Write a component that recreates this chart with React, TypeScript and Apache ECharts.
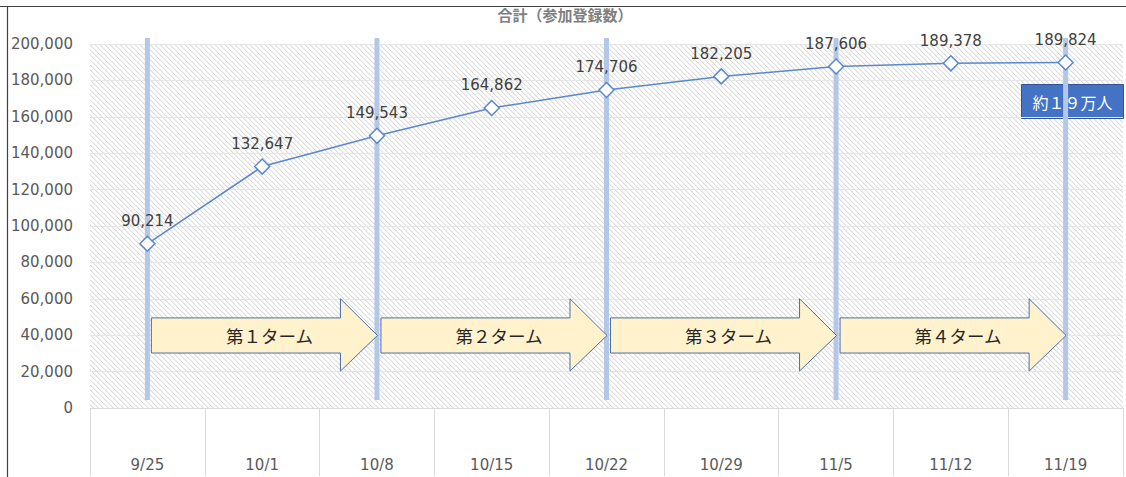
import React, { useEffect, useRef } from "react";
import * as echarts from "echarts";

const categories = ["9/25", "10/1", "10/8", "10/15", "10/22", "10/29", "11/5", "11/12", "11/19"];
const registrations = [90214, 132647, 149543, 164862, 174706, 182205, 187606, 189378, 189824];
const termBoundaryIndex = [0, 2, 4, 6, 8];
const termLabels = ["第１ターム", "第２ターム", "第３ターム", "第４ターム"];
const termFrom = [0, 2, 4, 6];
const termTo = [2, 4, 6, 8];
const yMin = 0;
const yMax = 200000;
const yInterval = 20000;
const titleText = "合計（参加登録数）";
const noteText = "約１９万人";

const NUM_FONT = "DejaVu Sans";
const JP_FONT = '"Noto Sans CJK JP"';

function makeHatch(): string {
  const c = document.createElement("canvas");
  const n = 5;
  c.width = n;
  c.height = n;
  const ctx = c.getContext("2d")!;
  ctx.fillStyle = "#ffffff";
  ctx.fillRect(0, 0, n, n);
  for (let i = 0; i < n; i++) {
    ctx.fillStyle = "#dcdcdc";
    ctx.fillRect(i, i, 1, 1);
    ctx.fillStyle = "#f0f0f0";
    ctx.fillRect((i + 1) % n, i, 1, 1);
  }
  return c.toDataURL();
}

export default function App() {
  const ref = useRef<HTMLDivElement>(null);
  useEffect(() => {
    if (!ref.current) return;
    const chart = echarts.init(ref.current, undefined, { renderer: "svg" });
    const hatch = makeHatch();
    const option: any = {
      animation: false,
      backgroundColor: "#ffffff",
      grid: {
        left: 90,
        right: 3,
        top: 44,
        bottom: 69,
        show: true,
        borderWidth: 0,
        backgroundColor: { image: hatch, repeat: "repeat", imageWidth: 5, imageHeight: 5 },
      },
      xAxis: {
        type: "category",
        data: categories,
        boundaryGap: true,
        axisLine: { show: true, lineStyle: { color: "#d9d9d9", width: 1 } },
        axisTick: { show: true, interval: 0, length: 68, lineStyle: { color: "#d9d9d9", width: 1 } },
        axisLabel: { interval: 0, margin: 49, color: "#595959", fontSize: 15, fontFamily: NUM_FONT },
      },
      yAxis: {
        type: "value",
        min: yMin,
        max: yMax,
        interval: yInterval,
        axisLine: { show: false },
        axisTick: { show: false },
        splitLine: { show: true, lineStyle: { color: "#e6e6e6", width: 1 } },
        axisLabel: {
          margin: 17,
          color: "#595959",
          fontSize: 15,
          fontFamily: NUM_FONT,
          formatter: (v: number) => v.toLocaleString("en-US"),
        },
      },
      series: [
        {
          type: "custom",
          z: 1,
          silent: true,
          clip: false,
          encode: { x: 0, y: 1 },
          data: termBoundaryIndex.map((i) => [i, 0]),
          renderItem: (params: any, api: any) => {
            const x = api.coord([api.value(0), 0])[0];
            const top = api.coord([0, yMax])[1] - 6;
            const bottom = api.coord([0, 0])[1] - 8;
            return {
              type: "rect",
              shape: { x: x - 2.5, y: top, width: 5, height: bottom - top },
              style: { fill: "#b4c7e7" },
            };
          },
        },
        {
          type: "custom",
          z: 2,
          silent: true,
          clip: false,
          encode: { x: 0, y: 2 },
          data: termFrom.map((f, i) => [f, termTo[i], 0]),
          renderItem: (params: any, api: any) => {
            const idx = params.dataIndex;
            const xs = api.coord([api.value(0), 0])[0] + 4;
            const xt = api.coord([api.value(1), 0])[0] + 0.5;
            const xb = xt - 37;
            const yBT = api.coord([0, 49500])[1];
            const yBB = api.coord([0, 30200])[1];
            const yHT = api.coord([0, 60000])[1];
            const yHB = api.coord([0, 20300])[1];
            const ym = (yBT + yBB) / 2;
            return {
              type: "group",
              children: [
                {
                  type: "polygon",
                  shape: {
                    points: [
                      [xs, yBT],
                      [xb, yBT],
                      [xb, yHT],
                      [xt, ym],
                      [xb, yHB],
                      [xb, yBB],
                      [xs, yBB],
                    ],
                  },
                  style: { fill: "#fff2cc", stroke: "#4a6eaa", lineWidth: 1 },
                },
                {
                  type: "text",
                  x: (xs + xt) / 2 + 5,
                  y: ym,
                  style: {
                    text: termLabels[idx],
                    fill: "#262626",
                    font: `17.5px ${JP_FONT}`,
                    align: "center",
                    verticalAlign: "middle",
                  },
                },
              ],
            };
          },
        },
        {
          type: "line",
          z: 3,
          data: registrations,
          symbol: "diamond",
          symbolSize: 15,
          showAllSymbol: true,
          lineStyle: { color: "#5a87cf", width: 1.5 },
          itemStyle: { color: "#ffffff", borderColor: "#5a87cf", borderWidth: 1.5 },
          label: {
            show: true,
            position: "top",
            distance: 7,
            color: "#404040",
            fontSize: 15,
            fontFamily: NUM_FONT,
            formatter: (p: any) => Number(p.value).toLocaleString("en-US"),
          },
        },
      ],
      graphic: [
        {
          type: "text",
          z: 10,
          x: 565,
          y: 14,
          style: {
            text: titleText,
            fill: "#808080",
            font: `bold 15px ${JP_FONT}`,
            align: "center",
            verticalAlign: "middle",
          },
        },
        {
          type: "rect",
          z: 11,
          shape: { x: 0, y: 0, width: 1126, height: 8 },
          style: { fill: "#ffffff" },
        },
        {
          type: "line",
          z: 12,
          shape: { x1: 0, y1: 6.5, x2: 1126, y2: 6.5 },
          style: { stroke: "#404040", lineWidth: 1.2 },
        },
        {
          type: "line",
          z: 12,
          shape: { x1: 7.5, y1: 6, x2: 7.5, y2: 477 },
          style: { stroke: "#404040", lineWidth: 1.2 },
        },
        {
          type: "group",
          z: 12,
          children: [
            {
              type: "rect",
              shape: { x: 1021.5, y: 84.5, width: 102, height: 34 },
              style: { fill: "#4472c4", stroke: "#2f5597", lineWidth: 1 },
            },
            {
              type: "text",
              x: 1072.5,
              y: 101.5,
              style: {
                text: noteText,
                fill: "#ffffff",
                font: `16px ${JP_FONT}`,
                align: "center",
                verticalAlign: "middle",
              },
            },
          ],
        },
      ],
    };
    chart.setOption(option);
    return () => chart.dispose();
  }, []);
  return (
    <div
      ref={ref}
      style={{ position: "fixed", left: 0, top: 0, width: 1126, height: 477 }}
    />
  );
}
